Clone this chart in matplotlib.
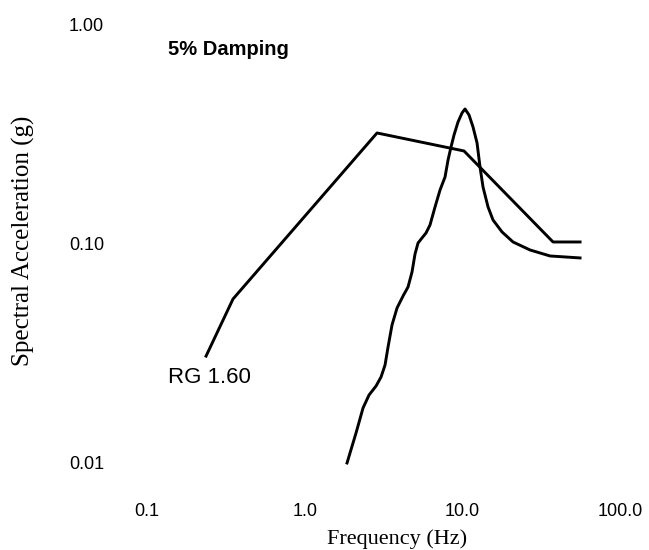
import matplotlib
matplotlib.use("Agg")
import matplotlib.pyplot as plt
from matplotlib.ticker import NullLocator

# RG 1.60 design spectrum (scaled), 5% damping
rg_freq = [0.2365, 0.3508, 2.876, 10.25, 37.63, 55.84]
rg_acc = [0.0306, 0.0558, 0.3196, 0.2645, 0.1016, 0.1016]

# response spectrum of the record
resp_freq = [1.855, 2.116, 2.344, 2.559, 2.835, 3.050, 3.233, 3.378, 3.580,
             3.852, 4.206, 4.524, 4.795, 5.011, 5.235, 5.550, 5.884, 6.237,
             6.711, 7.221, 7.768, 8.116, 8.479, 8.859, 9.391, 9.956, 10.40,
             11.03, 11.69, 12.40, 12.95, 13.53, 14.56, 15.66, 17.86, 20.97,
             26.89, 36.02, 55.84]
resp_acc = [0.00995, 0.01364, 0.01774, 0.02033, 0.02235, 0.02457, 0.02787,
            0.03368, 0.04246, 0.05075, 0.05757, 0.06329, 0.07411, 0.08956,
            0.1005, 0.1060, 0.1117, 0.1215, 0.1468, 0.1755, 0.2012, 0.2406,
            0.2759, 0.3130, 0.3587, 0.3944, 0.4113, 0.3861, 0.3404, 0.2877,
            0.2235, 0.1811, 0.1468, 0.1280, 0.1129, 0.1016, 0.0934, 0.0877,
            0.0859]

x_ticks = [0.1, 1.0, 10.0, 100.0]
x_ticklabels = ["0.1", "1.0", "10.0", "100.0"]
y_ticks = [0.01, 0.1, 1.0]
y_ticklabels = ["0.01", "0.10", "1.00"]

fig = plt.figure(figsize=(6.49, 5.5), dpi=100)
ax = fig.add_axes([0.2267, 0.1591, 0.7285, 0.7964])

ax.plot(rg_freq, rg_acc, color="black", lw=2.1, clip_on=False)
ax.plot(resp_freq, resp_acc, color="black", lw=2.1, clip_on=False)

ax.set_xscale("log")
ax.set_yscale("log")
ax.set_xlim(0.1, 100)
ax.set_ylim(0.01, 1)

for s in ax.spines.values():
    s.set_visible(False)

ax.set_xticks(x_ticks)
ax.set_xticklabels(x_ticklabels, family="Liberation Sans", fontsize=13)
ax.set_yticks(y_ticks)
ax.set_yticklabels(y_ticklabels, family="Liberation Sans", fontsize=13)
ax.xaxis.set_minor_locator(NullLocator())
ax.yaxis.set_minor_locator(NullLocator())
ax.tick_params(axis="x", length=0, pad=29)
ax.tick_params(axis="y", length=0, pad=31)

ax.set_xlabel("Frequency (Hz)", family="Liberation Serif", fontsize=16)
ax.xaxis.set_label_coords(0.5286, -0.152)
ax.set_ylabel("Spectral Acceleration (g)", family="Liberation Serif", fontsize=18)
ax.yaxis.set_label_coords(-0.238, 0.505)

ax.text(0.171, 0.942, "5% Damping", transform=ax.transAxes, ha="center",
        va="center", family="Liberation Sans", fontweight="bold", fontsize=14.5)
ax.text(0.131, 0.193, "RG 1.60", transform=ax.transAxes, ha="center",
        va="center", family="Liberation Sans", fontsize=16)

fig.savefig("out.png", dpi=100)
